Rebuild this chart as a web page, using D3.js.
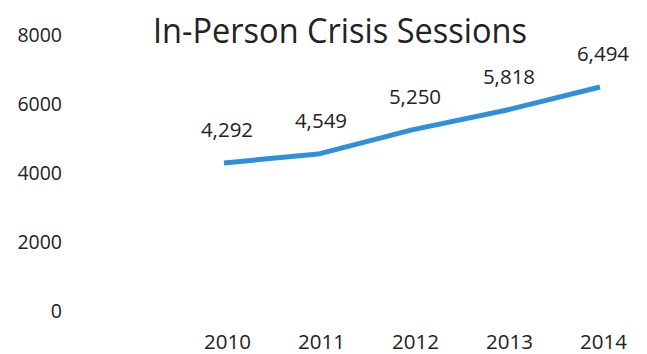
<!DOCTYPE html>
<meta charset="utf-8" />
<script src="https://d3js.org/d3.v7.min.js"></script>
<style>
  body { margin: 0; background: #fff; }
  text { font-family: "Open Sans", sans-serif; fill: #222; }
  .axis path, .axis line { display: none; }
</style>
<div id="chart"></div>
<script>
  // data
  const years = ["2010", "2011", "2012", "2013", "2014"];
  const sessions = [4292, 4549, 5250, 5818, 6494];
  const yTicks = [0, 2000, 4000, 6000, 8000];
  const title = "In-Person Crisis Sessions";

  const width = 647, height = 354;

  const svg = d3.select("#chart").append("svg")
    .attr("width", width)
    .attr("height", height);

  const x = d3.scalePoint().domain(years).range([224, 600]);
  const y = d3.scaleLinear().domain([0, 8000]).range([311, 35]);

  // y axis (labels only)
  svg.append("g")
    .attr("class", "axis")
    .attr("transform", "translate(70,0)")
    .call(d3.axisLeft(y).tickValues(yTicks).tickSize(0).tickPadding(8).tickFormat(d3.format("d")))
    .selectAll("text")
    .style("font-size", "19.5px")
    .style("font-family", "'Open Sans', sans-serif");

  // x axis (labels only)
  svg.append("g")
    .attr("class", "axis")
    .attr("transform", "translate(3,334)")
    .call(d3.axisBottom(x).tickSize(0).tickPadding(0))
    .selectAll("text")
    .style("font-size", "20.5px")
    .style("font-family", "'Open Sans', sans-serif");

  // title
  svg.append("text")
    .attr("x", 340)
    .attr("y", 43)
    .attr("text-anchor", "middle")
    .style("font-size", "35px")
    .attr("textLength", 374)
    .attr("lengthAdjust", "spacingAndGlyphs")
    .text(title);

  // line
  const line = d3.line()
    .x((d, i) => x(years[i]))
    .y(d => y(d));

  svg.append("path")
    .datum(sessions)
    .attr("fill", "none")
    .attr("stroke", "#2e90dc")
    .attr("stroke-width", 5)
    .attr("stroke-linejoin", "round")
    .attr("d", line);

  // data labels
  svg.append("g")
    .selectAll("text")
    .data(sessions)
    .join("text")
    .attr("x", (d, i) => x(years[i]) + 3)
    .attr("y", d => y(d) - 26)
    .attr("text-anchor", "middle")
    .style("font-size", "20.5px")
    .text(d => d3.format(",")(d));
</script>
